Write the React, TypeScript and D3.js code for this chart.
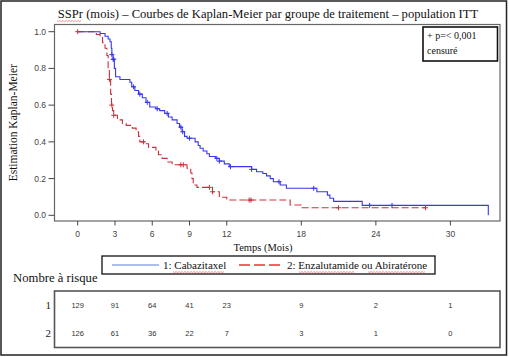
import React from "react";
import * as d3 from "d3";

// ---- Data ----
const xTicks = [0, 3, 6, 9, 12, 18, 24, 30];
const yTicks = [0, 0.2, 0.4, 0.6, 0.8, 1.0];

// Cabazitaxel: [time (months), survival after step]
const cabaSteps: [number, number][] = [
  [0, 1.0], [1.8, 0.99], [2.2, 0.975], [2.45, 0.96], [2.6, 0.945], [2.7, 0.91], [2.75, 0.875],
  [2.85, 0.85], [2.95, 0.8], [3.05, 0.755], [3.4, 0.74], [4.2, 0.725], [4.35, 0.7], [4.6, 0.68],
  [4.9, 0.66], [5.2, 0.64], [5.5, 0.615], [5.8, 0.59], [6.3, 0.58], [6.6, 0.57], [7.0, 0.555],
  [7.3, 0.535], [7.6, 0.52], [8.0, 0.5], [8.2, 0.48], [8.4, 0.455], [8.6, 0.43], [8.8, 0.42],
  [9.45, 0.4], [9.7, 0.38], [9.85, 0.365], [10.1, 0.35], [10.4, 0.335], [10.6, 0.32], [11.1, 0.31],
  [11.4, 0.295], [11.8, 0.28], [12.2, 0.265], [14.0, 0.25], [14.4, 0.237], [14.9, 0.228],
  [15.2, 0.215], [15.5, 0.2], [15.75, 0.183], [16.3, 0.165], [16.8, 0.147], [19.25, 0.128],
  [20.1, 0.11], [20.3, 0.093], [20.6, 0.076], [22.9, 0.054], [33.05, 0.0],
];
const cabaCensored: number[] = [2.75, 2.85, 2.9, 4.5, 5.0, 5.6, 6.4, 7.2, 8.3, 8.45, 9.0, 11.2, 11.4, 12.3, 14.0, 16.2, 19.0, 23.5, 25.3];

// Enzalutamide ou Abiratérone
const enzaSteps: [number, number][] = [
  [0, 1.0], [1.5, 0.985], [1.8, 0.97], [2.0, 0.94], [2.2, 0.91], [2.35, 0.87], [2.45, 0.8],
  [2.55, 0.74], [2.65, 0.66], [2.72, 0.6], [2.8, 0.57], [2.9, 0.545], [3.2, 0.52], [3.6, 0.5],
  [3.9, 0.49], [4.4, 0.475], [4.7, 0.455], [4.9, 0.43], [5.0, 0.4], [5.4, 0.39], [5.7, 0.37],
  [6.3, 0.35], [6.5, 0.33], [6.8, 0.31], [7.2, 0.29], [7.6, 0.275], [8.8, 0.256], [9.1, 0.23],
  [9.2, 0.2], [9.3, 0.165], [9.6, 0.152], [10.85, 0.128], [11.4, 0.098], [12.0, 0.083],
  [17.1, 0.056], [18.0, 0.041], [28.0, 0.041],
];
const enzaCensored: number[] = [0, 2.55, 2.75, 2.9, 5.3, 8.3, 8.5, 10.6, 10.85, 13.8, 13.95, 21.0, 28.0];

const riskRow1 = [129, 91, 64, 41, 23, 9, 2, 1];
const riskRow2 = [126, 61, 36, 22, 7, 3, 1, 0];

const title = "SSPr (mois) – Courbes de Kaplan-Meier par groupe de traitement – population ITT";
const legendLabels = ["1: Cabazitaxel", "2: Enzalutamide ou Abiratérone"];

const BLUE = "#3838ec";
const RED = "#c8323c";
const serif = "'Liberation Serif', 'Times New Roman', serif";
const sans = "'Liberation Sans', Arial, sans-serif";

function survAt(steps: [number, number][], t: number) {
  let s = steps[0][1];
  for (const [tt, v] of steps) {
    if (tt <= t) s = v;
    else break;
  }
  return s;
}

function Squiggle({ x1, x2, y }: { x1: number; x2: number; y: number }) {
  const pts: string[] = [];
  for (let xx = x1, i = 0; xx <= x2; xx += 1.5, i++) {
    pts.push(`${xx},${y + (i % 2 === 0 ? 0 : 1.2)}`);
  }
  return <polyline points={pts.join(" ")} fill="none" stroke="#e04040" strokeWidth={0.7} opacity={0.8} />;
}

export default function App() {
  const frame = { l: 54.5, t: 24.5, r: 500, b: 221 };
  const x = d3.scaleLinear().domain([0, 30]).range([77.7, 450.4]);
  const y = d3.scaleLinear().domain([0, 1]).range([215.3, 31.7]);
  const line = d3
    .line<[number, number]>()
    .x((d) => x(d[0]))
    .y((d) => y(d[1]))
    .curve(d3.curveStepAfter);

  const cross = (cx: number, cy: number, color: string, key: string) => (
    <g key={key} stroke={color} strokeWidth={1}>
      <line x1={cx - 2.5} x2={cx + 2.5} y1={cy} y2={cy} />
      <line x1={cx} x2={cx} y1={cy - 2.5} y2={cy + 2.5} />
    </g>
  );

  return (
    <svg width={509} height={357} style={{ position: "absolute", left: 0, top: 0, background: "#fff" }}>
      <rect x={1} y={1} width={505.5} height={354} fill="none" stroke="#222" strokeWidth={1.5} />
      <text x={268} y={18} textAnchor="middle" fontFamily={serif} fontSize={12.6} fill="#111">
        {title}
      </text>
      <Squiggle x1={57} x2={82} y={20.5} />

      {/* plot frame */}
      <rect x={frame.l} y={frame.t} width={frame.r - frame.l} height={frame.b - frame.t} fill="none" stroke="#666" strokeWidth={1.2} />

      {/* y axis */}
      {yTicks.map((v) => (
        <g key={"y" + v}>
          <line x1={48.5} x2={frame.l} y1={y(v)} y2={y(v)} stroke="#444" strokeWidth={1} />
          <text x={46} y={y(v) + 3} textAnchor="end" fontFamily={sans} fontSize={8.5} fill="#444">
            {v.toFixed(1)}
          </text>
        </g>
      ))}
      {/* x axis */}
      {xTicks.map((v) => (
        <g key={"x" + v}>
          <line x1={x(v)} x2={x(v)} y1={frame.b} y2={frame.b + 4.5} stroke="#444" strokeWidth={1} />
          <text x={x(v)} y={237} textAnchor="middle" fontFamily={sans} fontSize={8.5} fill="#444">
            {v}
          </text>
        </g>
      ))}
      <text x={263} y={250.5} textAnchor="middle" fontFamily={serif} fontSize={10.5} fill="#111">
        Temps (Mois)
      </text>
      <text
        transform={`translate(17,${(frame.t + frame.b) / 2}) rotate(-90)`}
        textAnchor="middle"
        fontFamily={serif}
        fontSize={11.5}
        fill="#111"
      >
        Estimation Kaplan-Meier
      </text>

      {/* curves */}
      <path d={line(enzaSteps) || ""} fill="none" stroke={RED} strokeWidth={1.1} strokeDasharray="7,3" />
      <path d={line(cabaSteps) || ""} fill="none" stroke={BLUE} strokeWidth={1.1} />
      {enzaCensored.map((t, i) => cross(x(t), y(survAt(enzaSteps, t)), RED, "ec" + i))}
      {cabaCensored.map((t, i) => cross(x(t), y(survAt(cabaSteps, t)), BLUE, "cc" + i))}

      {/* censor box */}
      <rect x={423} y={27} width={74.5} height={34} fill="#fff" stroke="#111" strokeWidth={1.6} />
      <text x={427} y={38.5} fontFamily={serif} fontSize={10} fill="#111">
        + p=&lt; 0,001
      </text>
      <text x={427} y={54} fontFamily={serif} fontSize={10} fill="#111">
        censuré
      </text>

      {/* legend */}
      <rect x={102} y={256} width={333} height={18} fill="none" stroke="#111" strokeWidth={1.3} />
      <line x1={112} x2={159} y1={265} y2={265} stroke="#5a7fd8" strokeWidth={1.2} />
      <text x={163} y={269} fontFamily={serif} fontSize={11} fill="#111">
        {legendLabels[0]}
      </text>
      <Squiggle x1={173} x2={224} y={271.5} />
      <line x1={239} x2={281} y1={265} y2={265} stroke="#f03030" strokeWidth={1.4} strokeDasharray="11,4" />
      <text x={287} y={269} fontFamily={serif} fontSize={11} fill="#111">
        {legendLabels[1]}
      </text>
      <Squiggle x1={299} x2={355} y={271.5} />
      <Squiggle x1={368} x2={426} y={271.5} />

      <text x={13} y={282} fontFamily={serif} fontSize={12.7} fill="#111">
        Nombre à risque
      </text>

      {/* risk table */}
      <rect x={54.5} y={291} width={445.5} height={56.5} fill="none" stroke="#555" strokeWidth={1.6} />
      <text x={51} y={309} textAnchor="end" fontFamily={serif} fontSize={11} fill="#222">1</text>
      <text x={51} y={337} textAnchor="end" fontFamily={serif} fontSize={11} fill="#222">2</text>
      {riskRow1.map((v, i) => (
        <text key={"r1" + i} x={x(xTicks[i])} y={307.5} textAnchor="middle" fontFamily={sans} fontSize={7.5} fill="#333">
          {v}
        </text>
      ))}
      {riskRow2.map((v, i) => (
        <text key={"r2" + i} x={x(xTicks[i])} y={336} textAnchor="middle" fontFamily={sans} fontSize={7.5} fill="#333">
          {v}
        </text>
      ))}
    </svg>
  );
}
